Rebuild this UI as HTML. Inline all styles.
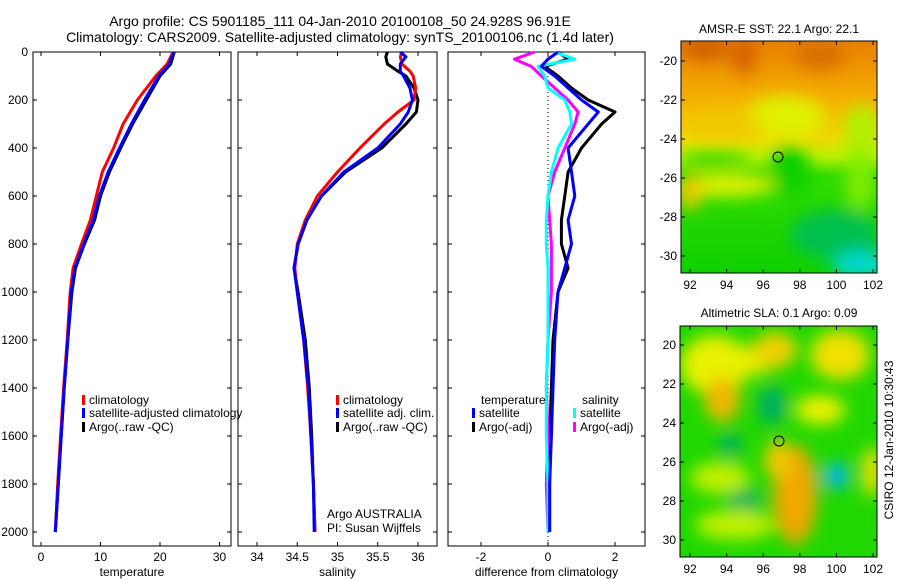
<!DOCTYPE html>
<html><head><meta charset="utf-8"><style>
body{margin:0;background:#fff;}
svg{display:block;font-family:"Liberation Sans",sans-serif;}
</style></head><body>
<svg id="c" width="900" height="580" viewBox="0 0 900 580">
<defs>
<filter id="bl" filterUnits="userSpaceOnUse" x="600" y="0" width="300" height="580"><feGaussianBlur stdDeviation="8"/></filter>
<linearGradient id="sstg" x1="0" y1="41" x2="0" y2="273" gradientUnits="userSpaceOnUse">
<stop offset="0" stop-color="#e88000"/>
<stop offset="0.25" stop-color="#f4b000"/>
<stop offset="0.42" stop-color="#f0d800"/>
<stop offset="0.5" stop-color="#b8f000"/>
<stop offset="0.58" stop-color="#30dc00"/>
<stop offset="1" stop-color="#10d000"/>
</linearGradient>
<clipPath id="m1"><rect x="681" y="41" width="196" height="232"/></clipPath>
<clipPath id="m2"><rect x="680" y="326" width="197" height="231"/></clipPath>
</defs>
<text x="340" y="26" font-size="14" text-anchor="middle">Argo profile: CS 5901185_111 04-Jan-2010 20100108_50 24.928S 96.91E</text>
<text x="340" y="42" font-size="14" text-anchor="middle">Climatology: CARS2009. Satellite-adjusted climatology: synTS_20100106.nc (1.4d later)</text>

<g>
<g clip-path="url(#m1)">
<rect x="681" y="41" width="196" height="232" fill="url(#sstg)"/>
<g filter="url(#bl)">
<ellipse cx="705" cy="48" rx="25" ry="12" fill="#d06000"/>
<ellipse cx="744" cy="55" rx="12" ry="20" fill="#d86000"/>
<ellipse cx="820" cy="55" rx="25" ry="15" fill="#d87000"/>
<ellipse cx="785" cy="118" rx="40" ry="22" fill="#e0f000"/>
<ellipse cx="862" cy="135" rx="18" ry="30" fill="#b0f000"/>
<ellipse cx="722" cy="125" rx="40" ry="12" fill="#f0c800"/>
<ellipse cx="725" cy="185" rx="50" ry="12" fill="#e0f000"/>
<ellipse cx="690" cy="192" rx="12" ry="18" fill="#f0c800"/>
<ellipse cx="715" cy="160" rx="35" ry="8" fill="#30d800"/>
<ellipse cx="860" cy="180" rx="15" ry="30" fill="#80ec00"/>
<ellipse cx="835" cy="235" rx="45" ry="25" fill="#00c050"/>
<ellipse cx="862" cy="265" rx="30" ry="14" fill="#00d8d0"/>
<ellipse cx="790" cy="170" rx="20" ry="25" fill="#10d000"/>
</g>
</g>
<rect x="681" y="41" width="196" height="232" fill="none" stroke="#000"/>
<circle cx="778" cy="157" r="5" fill="none" stroke="#000"/>
<text x="779" y="33" font-size="12" text-anchor="middle">AMSR-E SST: 22.1 Argo: 22.1</text>
</g>

<g>
<g clip-path="url(#m2)">
<rect x="680" y="326" width="197" height="231" fill="#20d800"/>
<g filter="url(#bl)">
<ellipse cx="715" cy="365" rx="35" ry="30" fill="#e8f000"/>
<ellipse cx="722" cy="400" rx="18" ry="22" fill="#f0b800"/>
<ellipse cx="755" cy="360" rx="20" ry="15" fill="#e8f000"/>
<ellipse cx="775" cy="350" rx="22" ry="18" fill="#f0d000"/>
<ellipse cx="840" cy="355" rx="30" ry="25" fill="#f0e000"/>
<ellipse cx="820" cy="410" rx="25" ry="15" fill="#e8f000"/>
<ellipse cx="772" cy="405" rx="15" ry="20" fill="#00b060"/>
<ellipse cx="730" cy="445" rx="12" ry="12" fill="#00b060"/>
<ellipse cx="795" cy="495" rx="22" ry="50" fill="#f0a800"/>
<ellipse cx="778" cy="460" rx="14" ry="20" fill="#f0c800"/>
<ellipse cx="836" cy="476" rx="13" ry="13" fill="#00b8e8"/>
<ellipse cx="872" cy="472" rx="10" ry="25" fill="#f0e000"/>
<ellipse cx="720" cy="478" rx="30" ry="16" fill="#c0f000"/>
<ellipse cx="735" cy="525" rx="40" ry="15" fill="#c0f000"/>
<ellipse cx="745" cy="500" rx="18" ry="10" fill="#00b060"/>
</g>
</g>
<rect x="680" y="326" width="197" height="231" fill="none" stroke="#000"/>
<circle cx="779" cy="441" r="5" fill="none" stroke="#000"/>
<text x="779" y="317" font-size="12" text-anchor="middle">Altimetric SLA: 0.1 Argo: 0.09</text>
<text transform="translate(893,440) rotate(-90)" font-size="12" text-anchor="middle">CSIRO 12-Jan-2010 10:30:43</text>
</g>
<g id="dyn"></g>
</svg>
<script>
// Temperature panel data
const depthsT = [0,50,100,200,300,400,500,600,700,800,900,1000,1200,1400,1600,1800,2000];
const tempClim = [22.2,21.2,19.3,16.2,13.8,12.2,10.3,9.3,8.3,6.8,5.4,4.9,4.4,3.8,3.3,2.8,2.4];
const tempSat  = [22.3,21.6,19.8,17.4,15.2,13.2,11.3,9.8,8.8,7.2,5.7,5.1,4.5,3.9,3.4,2.9,2.4];
const tempArgo = [22.4,21.8,20.0,17.7,15.4,13.4,11.5,10.0,9.0,7.3,5.8,5.2,4.5,3.9,3.4,2.9,2.4];
// Salinity panel data
const depthsS = [0,20,50,80,100,150,200,250,300,400,500,600,700,800,900,1000,1200,1400,1600,1800,2000];
const salClim = [35.8,35.78,35.8,35.9,35.94,35.97,35.95,35.75,35.58,35.28,35.0,34.75,34.6,34.5,34.47,34.5,34.58,34.63,34.67,34.7,34.72];
const salSat  = [35.78,35.85,35.78,35.78,35.82,35.9,35.93,35.88,35.78,35.5,35.08,34.8,34.62,34.51,34.46,34.5,34.58,34.64,34.67,34.7,34.71];
const salArgo = [35.62,35.6,35.62,35.75,35.85,35.95,36.0,35.98,35.85,35.55,35.1,34.8,34.62,34.51,34.46,34.51,34.6,34.65,34.68,34.7,34.72];
// Difference panel data
const depthsD = [0,30,60,100,150,200,250,300,400,500,600,700,800,900,1000,1200,1400,1600,1800,2000];
const diffTSat  = [0.3,0.0,-0.2,0.2,0.6,1.0,1.5,1.2,0.6,0.7,0.8,0.6,0.7,0.5,0.3,0.2,0.15,0.1,0.05,0.05];
const diffTArgo = [0.3,0.6,-0.1,0.3,0.7,1.2,2.0,1.6,1.0,0.6,0.5,0.4,0.4,0.6,0.3,0.15,0.1,0.05,0.03,0.0];
const diffSSat  = [0.2,0.8,-0.3,-0.1,0.0,0.5,0.65,0.7,0.3,0.1,0.0,-0.05,-0.05,0.0,0.0,0.0,-0.05,-0.05,0.0,0.0];
const diffSArgo = [-0.4,-1.0,-0.5,-0.2,0.2,0.6,0.9,0.8,0.5,0.2,0.0,0.05,0.1,0.1,0.1,0.0,-0.05,0.0,-0.05,0.0];
const depthTicks = [0,200,400,600,800,1000,1200,1400,1600,1800,2000];
const tTicks = [0,10,20,30];
const sTicks = [34,34.5,35,35.5,36];
const dTicks = [-2,0,2];
const latTicks = [-20,-22,-24,-26,-28,-30];
const lonTicks = [92,94,96,98,100,102];

const NS='http://www.w3.org/2000/svg';
const dyn=document.getElementById('dyn');
function mk(tag,attrs,parent){const e=document.createElementNS(NS,tag);for(const k in attrs)e.setAttribute(k,attrs[k]);(parent||dyn).appendChild(e);return e;}
const yD = d => 52 + d*0.24;
const TOP=52, BOT=546;
const panels=[
 {x0:33,x1:231,sx:v=>41+v*5.95,ticks:tTicks,label:'temperature',name:'temperature-panel'},
 {x0:238,x1:437,sx:v=>257+(v-34)*80.5,ticks:sTicks,label:'salinity',name:'salinity-panel'},
 {x0:448,x1:645,sx:v=>548+v*33.5,ticks:dTicks,label:'difference from climatology',name:'difference-panel'}
];
panels.forEach((p,i)=>{
 const g=mk('g',{});
 
 
 mk('rect',{x:p.x0,y:TOP,width:p.x1-p.x0,height:BOT-TOP,fill:'none',stroke:'#000','stroke-width':1},g);
 p.ticks.forEach(t=>{const x=p.sx(t);
  mk('line',{x1:x,x2:x,y1:BOT,y2:BOT-4,stroke:'#000'},g);
  mk('line',{x1:x,x2:x,y1:TOP,y2:TOP+4,stroke:'#000'},g);
  const tx=mk('text',{x:x,y:BOT+15,'font-size':12,'text-anchor':'middle'},g);tx.textContent=t;
  
  
 });
 depthTicks.forEach(d=>{const y=yD(d);
  mk('line',{x1:p.x0,x2:p.x0+4,y1:y,y2:y,stroke:'#000'},g);
  mk('line',{x1:p.x1,x2:p.x1-4,y1:y,y2:y,stroke:'#000'},g);
  if(i===0){const tx=mk('text',{x:28,y:y+4,'font-size':12,'text-anchor':'end'},g);tx.textContent=d;
   
   }
 });
 const lb=mk('text',{x:(p.x0+p.x1)/2,y:576,'font-size':12,'text-anchor':'middle'},g);lb.textContent=p.label;
 
 
});
function line(depths,vals,sx,color,name){
 const pts=depths.map((d,i)=>sx(vals[i]).toFixed(1)+','+yD(d).toFixed(1)).join(' ');
 const e=mk('polyline',{points:pts,fill:'none',stroke:color,'stroke-width':3,'stroke-linejoin':'round'});
 
 
}
const [P1,P2,P3]=panels;
line(depthsT,tempArgo,P1.sx,'#000','temp-argo-line');
line(depthsT,tempClim,P1.sx,'#f00','temp-climatology-line');
line(depthsT,tempSat,P1.sx,'#00f','temp-satellite-line');
line(depthsS,salArgo,P2.sx,'#000','sal-argo-line');
line(depthsS,salClim,P2.sx,'#f00','sal-climatology-line');
line(depthsS,salSat,P2.sx,'#00f','sal-satellite-line');
const z=mk('line',{x1:P3.sx(0),x2:P3.sx(0),y1:TOP,y2:BOT,stroke:'#000','stroke-dasharray':'1,3'});


line(depthsD,diffTArgo,P3.sx,'#000','diff-temp-argo-line');
line(depthsD,diffSArgo,P3.sx,'#f0f','diff-sal-argo-line');
line(depthsD,diffSSat,P3.sx,'#0ff','diff-sal-satellite-line');
line(depthsD,diffTSat,P3.sx,'#00f','diff-temp-satellite-line');

function legend(x,y,color,text,name){
 const g=mk('g',{});
 
 
 if(color) mk('rect',{x:x,y:y-9,width:3,height:10,fill:color},g);
 const t=mk('text',{x:x+(color?7:0),y:y,'font-size':12},g);t.textContent=text;
}
legend(82,404,'#f00','climatology','legend-climatology');
legend(82,417,'#00f','satellite-adjusted climatology','legend-satellite');
legend(82,431,'#000','Argo(..raw -QC)','legend-argo');
legend(336,404,'#f00','climatology','legend-sal-climatology');
legend(336,417,'#00f','satellite adj. clim.','legend-sal-satellite');
legend(336,431,'#000','Argo(..raw -QC)','legend-sal-argo');
legend(481,404,null,'temperature','legend-temp-header');
legend(472,417,'#00f','satellite','legend-diff-temp-sat');
legend(472,431,'#000','Argo(-adj)','legend-diff-temp-argo');
legend(582,404,null,'salinity','legend-sal-header');
legend(573,417,'#0ff','satellite','legend-diff-sal-sat');
legend(573,431,'#f0f','Argo(-adj)','legend-diff-sal-argo');
const a1=mk('text',{x:327,y:518,'font-size':12});a1.textContent='Argo AUSTRALIA';


const a2=mk('text',{x:327,y:532,'font-size':12});a2.textContent='PI: Susan Wijffels';



// map axes
[{x0:681,x1:877,y0:41,y1:273,yl:v=>61+(-20-v)*19.5,neg:true},{x0:680,x1:877,y0:326,y1:557,yl:v=>345+(-20-v)*19.5,neg:false}].forEach(m=>{
 latTicks.forEach(v=>{const y=m.yl(v);
  mk('line',{x1:m.x0,x2:m.x0+4,y1:y,y2:y,stroke:'#000'});
  mk('line',{x1:m.x1,x2:m.x1-4,y1:y,y2:y,stroke:'#000'});
  const t=mk('text',{x:m.x0-4,y:y+4,'font-size':12,'text-anchor':'end'});t.textContent=m.neg?v:-v;
  
  
 });
 lonTicks.forEach(v=>{const x=690+(v-92)*18.3;
  mk('line',{x1:x,x2:x,y1:m.y1,y2:m.y1-4,stroke:'#000'});
  mk('line',{x1:x,x2:x,y1:m.y0,y2:m.y0+4,stroke:'#000'});
  const t=mk('text',{x:x,y:m.y1+16,'font-size':12,'text-anchor':'middle'});t.textContent=v;
  
  
 });
});
</script>
</body></html>
